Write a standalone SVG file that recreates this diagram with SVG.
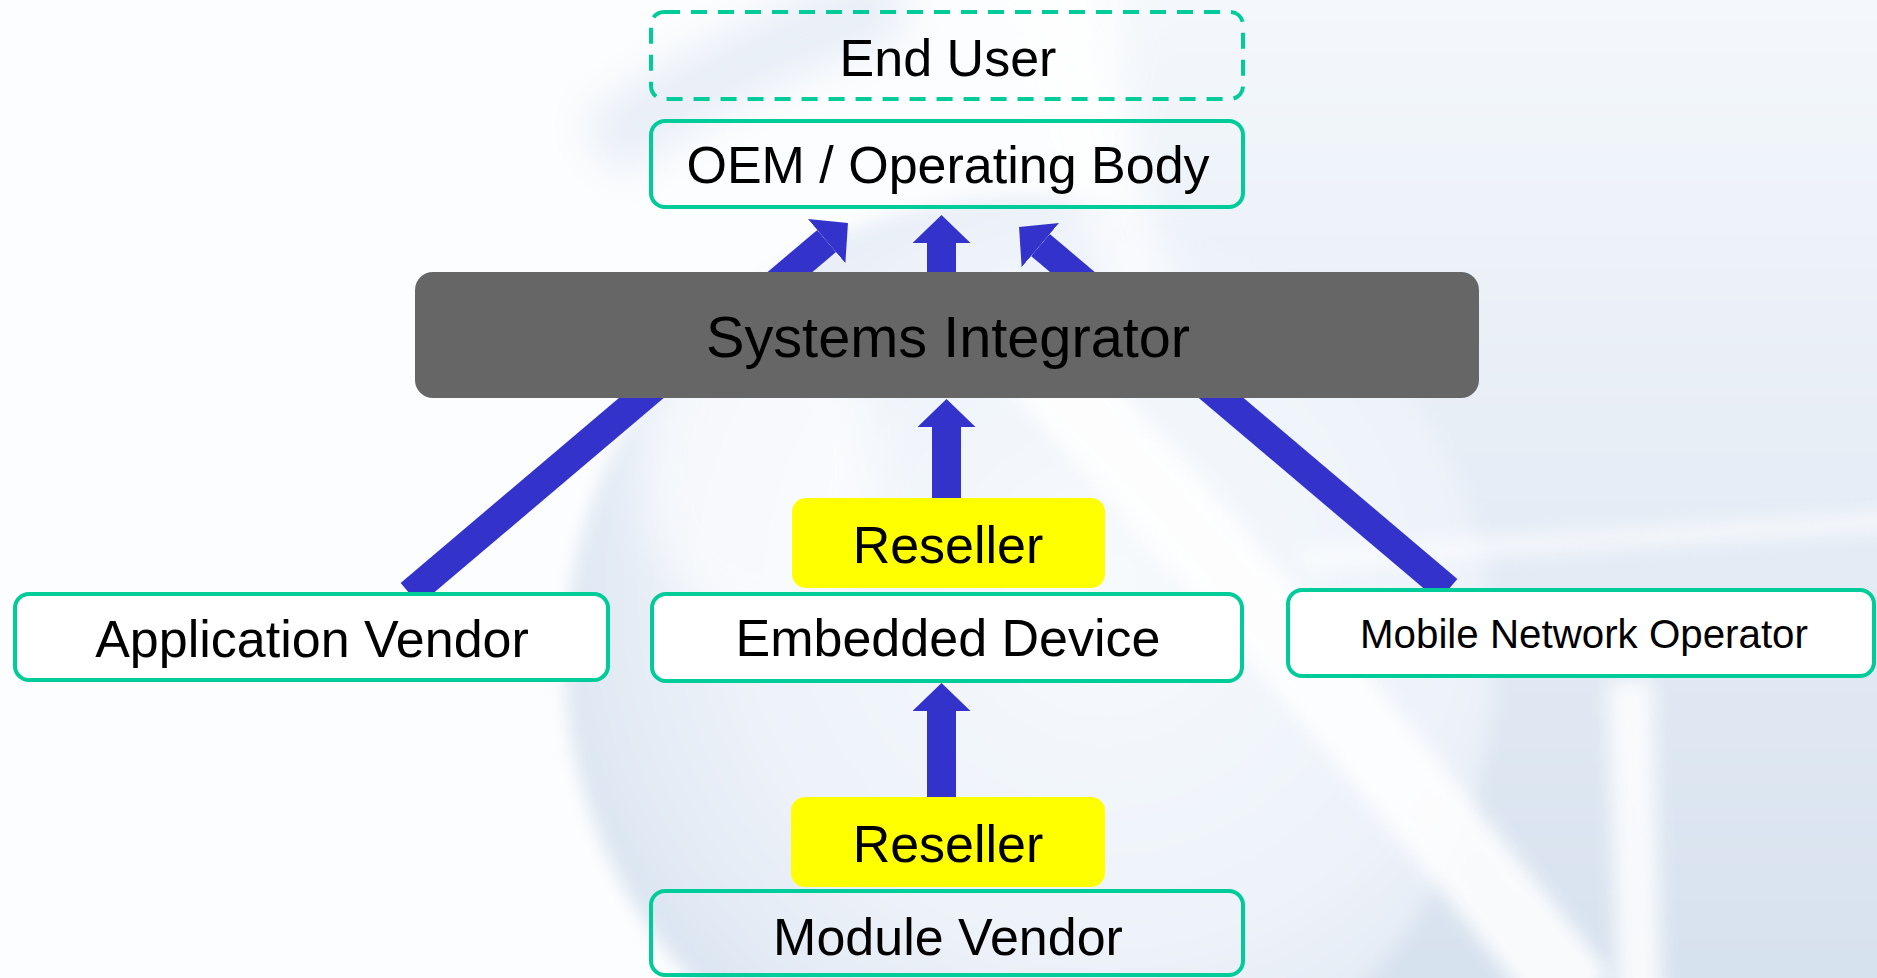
<svg xmlns="http://www.w3.org/2000/svg" width="1877" height="978" viewBox="0 0 1877 978">
  <style>
    .box { fill: #ffffff; stroke: #00cc99; stroke-width: 4; }
    .clear { fill: none; stroke: #00cc99; stroke-width: 4; }
    .dashed { stroke-dasharray: 16 11; }
    .reseller { fill: #ffff00; }
    .integrator { fill: #666666; }
    .label { font-family: "Liberation Sans", Arial, sans-serif; fill: #000000; text-anchor: middle; }
    .link { stroke: #3333cc; stroke-width: 29; fill: none; }
  </style>
  <defs>
    <marker id="head" markerUnits="userSpaceOnUse" markerWidth="28" markerHeight="58" viewBox="0 0 28 58" refX="0" refY="29" orient="auto">
      <path d="M0,0 L28,29 L0,58 Z" fill="#3333cc"/>
    </marker>
    <linearGradient id="sideGrad" x1="0" y1="0" x2="0" y2="1">
      <stop offset="0" stop-color="#f6f9fc"/>
      <stop offset="0.4" stop-color="#e9eff7"/>
      <stop offset="1" stop-color="#d5e0ee"/>
    </linearGradient>
    <radialGradient id="globeGrad" cx="0.58" cy="0.42" r="0.62">
      <stop offset="0" stop-color="#f7fafd"/>
      <stop offset="0.65" stop-color="#edf2f9"/>
      <stop offset="0.9" stop-color="#e1e9f4"/>
      <stop offset="1" stop-color="#d8e3f0"/>
    </radialGradient>
    <filter id="soft" filterUnits="userSpaceOnUse" x="-200" y="-200" width="2300" height="1400">
      <feGaussianBlur stdDeviation="9"/>
    </filter>
    <filter id="softer" filterUnits="userSpaceOnUse" x="-200" y="-200" width="2300" height="1400">
      <feGaussianBlur stdDeviation="22"/>
    </filter>
  </defs>

  <!-- backdrop: pale globe and light swooshes -->
  <g id="backdrop">
    <rect x="0" y="0" width="1877" height="978" fill="#fcfdfe"/>
    <rect x="1120" y="-60" width="820" height="1100" fill="url(#sideGrad)" filter="url(#softer)"/>
    <circle cx="1030" cy="660" r="465" fill="url(#globeGrad)" filter="url(#soft)"/>
    <path d="M600,150 Q720,60 900,0" stroke="#e8eef7" stroke-width="70" fill="none" filter="url(#softer)"/>
    <path d="M980,300 Q1230,560 1580,1000" stroke="#ffffff" stroke-width="80" fill="none" opacity="0.85" filter="url(#soft)"/>
    <path d="M1630,680 L1640,1000" stroke="#ffffff" stroke-width="45" fill="none" opacity="0.8" filter="url(#soft)"/>
    <path d="M1040,-20 Q1120,200 1150,330" stroke="#ffffff" stroke-width="60" fill="none" opacity="0.7" filter="url(#softer)"/>
    <path d="M1300,560 L1900,520" stroke="#ffffff" stroke-width="20" fill="none" opacity="0.6" filter="url(#soft)"/>
    <ellipse cx="760" cy="470" rx="120" ry="160" fill="#ffffff" opacity="0.6" filter="url(#softer)"/>
  </g>

  <!-- supply-chain flows -->
  <g id="connectors">
    <line class="link" x1="410" y1="594" x2="826.6" y2="241" marker-end="url(#head)"/>
    <line class="link" x1="1448" y1="590" x2="1040.4" y2="245" marker-end="url(#head)"/>
    <line class="link" x1="941.5" y1="300" x2="941.5" y2="243" marker-end="url(#head)"/>
    <line class="link" x1="946.5" y1="500" x2="946.5" y2="427" marker-end="url(#head)"/>
    <line class="link" x1="941.5" y1="799" x2="941.5" y2="711" marker-end="url(#head)"/>
  </g>

  <g id="end-user">
    <rect class="clear dashed" x="651" y="12" width="592" height="87" rx="13"/>
    <text class="label" x="948" y="76" font-size="52">End User</text>
  </g>

  <g id="oem">
    <rect class="clear" x="651" y="121" width="592" height="86" rx="14" fill="#ffffff" fill-opacity="0.55"/>
    <text class="label" x="948" y="183" font-size="52">OEM / Operating Body</text>
  </g>

  <g id="systems-integrator">
    <rect class="integrator" x="415" y="272" width="1064" height="126" rx="18"/>
    <text class="label" x="948" y="357" font-size="57.7">Systems Integrator</text>
  </g>

  <g id="reseller-upper">
    <rect class="reseller" x="792" y="498" width="313" height="90" rx="14"/>
    <text class="label" x="948" y="563" font-size="52">Reseller</text>
  </g>

  <g id="application-vendor">
    <rect class="box" x="15" y="594" width="593" height="86" rx="14"/>
    <text class="label" x="312" y="657" font-size="52">Application Vendor</text>
  </g>

  <g id="embedded-device">
    <rect class="box" x="652" y="594" width="590" height="87" rx="14"/>
    <text class="label" x="948" y="656" font-size="52">Embedded Device</text>
  </g>

  <g id="mobile-network-operator">
    <rect class="box" x="1288" y="590" width="586" height="86" rx="14"/>
    <text class="label" x="1584" y="648" font-size="40.3">Mobile Network Operator</text>
  </g>

  <g id="reseller-lower">
    <rect class="reseller" x="791" y="797" width="314" height="90" rx="14"/>
    <text class="label" x="948" y="862" font-size="52">Reseller</text>
  </g>

  <g id="module-vendor">
    <rect class="clear" x="651" y="891" width="592" height="84" rx="14"/>
    <text class="label" x="948" y="955" font-size="52">Module Vendor</text>
  </g>
</svg>
